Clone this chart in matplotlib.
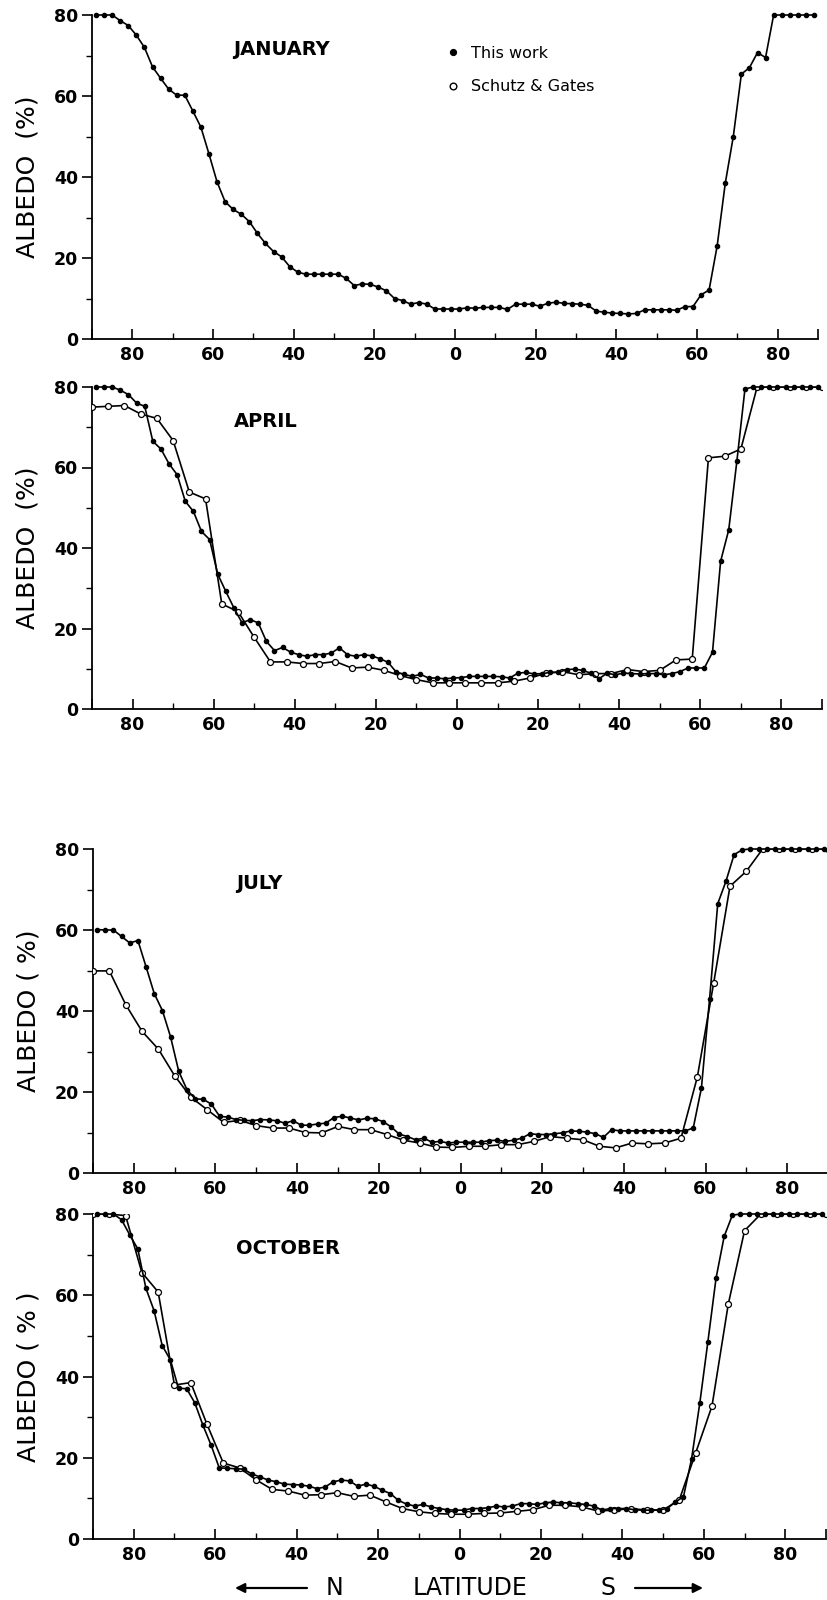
"""
Zonal mean albedo by latitude for four months,
this work vs. Schutz & Gates.
x runs from 90N (left, -90) to 90S (right, +90).
"""
import numpy as np
import matplotlib
matplotlib.use("Agg")
import matplotlib.pyplot as plt
from matplotlib.lines import Line2D
from matplotlib.ticker import FixedLocator, MultipleLocator

# ── data ────────────────────────────────────────────────────────────────
lat_this = np.arange(-89, 90, 2)     # 2-degree bands, N negative
lat_sg = np.arange(-90, 91, 4)       # Schutz & Gates, 4-degree spacing

jan_this = [80, 80, 80, 78.6, 77.4, 75.0, 72.0, 67.2, 64.4, 61.7,
            60.2, 60.2, 56.3, 52.3, 45.7, 38.8, 33.9, 32.0, 30.8, 29.0,
            26.1, 23.6, 21.6, 20.3, 17.9, 16.5, 16.0, 16.0, 16.0, 16.0,
            16.0, 15.0, 13.2, 13.6, 13.5, 12.8, 11.9, 10.0, 9.5, 8.6,
            9.0, 8.6, 7.4, 7.4, 7.4,
            7.4, 7.7, 7.6, 7.8, 7.8, 7.8, 7.3, 8.6, 8.6, 8.6,
            8.1, 8.8, 9.1, 8.8, 8.7, 8.6, 8.3, 6.9, 6.6, 6.4,
            6.3, 6.2, 6.3, 7.2, 7.2, 7.2, 7.2, 7.1, 8.0, 8.0,
            10.9, 12.1, 23.0, 38.4, 50.0, 65.4, 67.0, 70.7, 69.5, 80,
            80, 80, 80, 80, 80]

apr_this = [80, 80, 80, 79.2, 78.1, 76.0, 75.2, 66.5, 64.6, 60.9,
            58.2, 51.6, 49.1, 44.1, 42.1, 33.5, 29.2, 25.1, 21.4, 22.2,
            21.4, 16.8, 14.5, 15.3, 14.1, 13.5, 13.1, 13.5, 13.5, 13.9,
            15.2, 13.5, 13.1, 13.5, 13.2, 12.5, 11.6, 9.2, 8.6, 8.1,
            8.6, 7.7, 7.7, 7.5, 7.7,
            7.8, 8.1, 8.1, 8.1, 8.1, 8.0, 7.7, 8.9, 9.1, 8.7,
            8.8, 9.1, 9.1, 9.8, 9.9, 9.6, 8.9, 7.5, 8.9, 8.5,
            8.9, 8.8, 8.7, 8.8, 8.8, 8.5, 8.8, 9.3, 10.2, 10.2,
            10.2, 14.1, 36.7, 44.5, 61.5, 79.5, 80, 80, 80, 80,
            80, 80, 80, 80, 80]
apr_sg = [75.0, 75.2, 75.4, 73.3, 72.2, 66.7, 53.9, 52.2, 26.1, 24.2,
          17.8, 11.7, 11.7, 11.3, 11.3, 11.8, 10.2, 10.4, 9.6, 8.3,
          7.3, 6.5, 6.5,
          6.5, 6.5, 6.5, 6.9, 7.7, 8.9, 9.3, 8.5, 8.8, 8.8,
          9.8, 9.3, 9.6, 12.2, 12.4, 62.4, 62.8, 64.6, 80, 80,
          80, 80, 80]

jul_this = [60.1, 60, 60, 58.4, 56.8, 57.4, 50.9, 44.3, 40.1, 33.6,
            25.1, 20.6, 18.3, 18.2, 17.0, 14.0, 13.8, 13.2, 13.0, 12.9,
            13.2, 13.1, 12.9, 12.3, 12.9, 11.8, 11.8, 12.1, 12.3, 13.7,
            14.0, 13.6, 13.1, 13.5, 13.4, 12.7, 11.4, 9.6, 9.0, 8.2,
            8.6, 7.6, 7.8, 7.4, 7.6,
            7.6, 7.6, 7.6, 8.0, 8.1, 7.8, 8.1, 8.6, 9.7, 9.5,
            9.5, 9.7, 9.9, 10.4, 10.3, 10.1, 9.7, 8.8, 10.7, 10.4,
            10.4, 10.4, 10.4, 10.4, 10.4, 10.4, 10.4, 10.4, 11.1, 21.0,
            43.0, 66.5, 72.0, 78.6, 79.8, 80, 80, 80, 80, 80,
            80, 80, 80, 80, 80]
jul_sg = [49.9, 49.9, 41.6, 35.0, 30.6, 24.0, 18.7, 15.6, 12.5, 13.0,
          11.7, 11.1, 11.1, 10.0, 9.9, 11.5, 10.7, 10.7, 9.5, 8.1,
          7.4, 6.4, 6.3,
          6.6, 6.6, 7.0, 7.0, 7.8, 9.0, 8.6, 8.2, 6.6, 6.2,
          7.4, 7.2, 7.4, 8.6, 23.7, 46.9, 70.8, 74.5, 80, 80,
          80, 80, 80]

oct_this = [80, 80, 80, 78.6, 74.9, 71.4, 61.7, 56.2, 47.6, 44.1,
            37.1, 37.0, 33.5, 28.0, 23.1, 17.5, 17.4, 17.3, 17.2, 16.0,
            15.3, 14.5, 14.1, 13.5, 13.4, 13.3, 13.0, 12.4, 12.8, 14.1,
            14.5, 14.3, 13.0, 13.5, 13.0, 12.0, 11.2, 9.5, 8.6, 8.1,
            8.5, 7.9, 7.5, 7.2, 7.1,
            7.1, 7.5, 7.5, 7.7, 8.1, 7.9, 8.1, 8.7, 8.7, 8.5,
            8.9, 9.1, 8.9, 8.9, 8.7, 8.5, 8.1, 7.1, 7.5, 7.5,
            7.5, 7.2, 7.1, 7.1, 7.2, 7.5, 9.1, 10.4, 19.8, 33.4,
            48.6, 64.2, 74.5, 79.7, 80, 80, 80, 80, 80, 80,
            80, 80, 80, 80, 80]
oct_sg = [80, 80, 79.6, 65.6, 60.8, 37.9, 38.5, 28.2, 18.7, 17.5,
          14.6, 12.2, 11.8, 10.8, 10.9, 11.4, 10.5, 10.8, 9.1, 7.5,
          6.7, 6.3, 6.1,
          6.1, 6.3, 6.4, 6.8, 7.2, 8.3, 8.3, 7.9, 6.9, 7.1,
          7.5, 7.1, 7.1, 9.7, 21.2, 32.7, 57.8, 75.9, 80, 80,
          80, 80, 80]

months = ["JANUARY", "APRIL", "JULY", "OCTOBER"]
ylabels = ["ALBEDO  (%)", "ALBEDO  (%)", "ALBEDO ( %)", "ALBEDO ( % )"]
xtick_pos = [-80, -60, -40, -20, 0, 20, 40, 60, 80]
xtick_labels = ["80", "60", "40", "20", "0", "20", "40", "60", "80"]

panels = [(jan_this, None), (apr_this, apr_sg),
          (jul_this, jul_sg), (oct_this, oct_sg)]

# ── figure ──────────────────────────────────────────────────────────────
plt.rcParams["font.family"] = ["DejaVu Sans"]

W, H = 827, 1600
fig = plt.figure(figsize=(W / 100, H / 100), dpi=100)

# axes boxes in pixels: (left, right, y80, y0)
boxes = [(92, 818, 15, 339), (92, 822, 387, 709),
         (93, 828, 849, 1173), (93, 826, 1214, 1539)]

for i, ((this, sg), box) in enumerate(zip(panels, boxes)):
    l, r, top, bot = box
    ax = fig.add_axes([l / W, 1 - bot / H, (r - l) / W, (bot - top) / H])
    ax.set_xlim(-90, 90)
    ax.set_ylim(0, 80)

    if sg is not None:
        ax.plot(lat_sg, sg, color="black", lw=1.2, marker="o", ms=4.3,
                mfc="white", mec="black", mew=0.9, zorder=3)
    ax.plot(lat_this, this, color="black", lw=1.2, marker="o", ms=3.0,
            mfc="black", mec="black", zorder=4, clip_on=False)

    for side in ("top", "right"):
        ax.spines[side].set_visible(False)
    for side in ("left", "bottom"):
        ax.spines[side].set_linewidth(1.3)

    ax.xaxis.set_major_locator(FixedLocator(xtick_pos + [-90, 90]))
    ax.set_xticklabels(xtick_labels + ["", ""])
    ax.xaxis.set_minor_locator(MultipleLocator(10))
    ax.yaxis.set_major_locator(MultipleLocator(20))
    ax.yaxis.set_minor_locator(MultipleLocator(10))
    ax.tick_params(axis="x", which="major", direction="in", length=7,
                   width=1.2, pad=5)
    ax.tick_params(axis="x", which="minor", direction="in", length=4.5,
                   width=1.0)
    ax.tick_params(axis="y", which="major", direction="out", length=7,
                   width=1.2, pad=3)
    ax.tick_params(axis="y", which="minor", direction="out", length=4,
                   width=1.0)
    for lab in ax.get_xticklabels() + ax.get_yticklabels():
        lab.set_fontsize(12.5)
        lab.set_fontweight("bold")

    ax.set_ylabel(ylabels[i], fontsize=18)
    ax.yaxis.set_label_coords(-0.072, 0.5)

    ax.text(-55, 71.5, months[i], fontsize=14, fontweight="bold",
            ha="left", va="center")

    if i == 0:
        handles = [
            Line2D([], [], ls="none", marker="o", ms=4.2, mfc="black",
                   mec="black"),
            Line2D([], [], ls="none", marker="o", ms=4.8, mfc="white",
                   mec="black", mew=1.0),
        ]
        ax.legend(handles, ["This work", "Schutz & Gates"],
                  loc="upper left", bbox_to_anchor=(0.49, 0.905),
                  frameon=False, fontsize=11.5, handlelength=0.6,
                  handletextpad=0.85, labelspacing=1.15, borderpad=0,
                  borderaxespad=0)

# bottom axis caption with direction arrows
yc = 1 - 1588 / H
fig.text(335 / W, yc, "N", fontsize=17, ha="center", va="center")
fig.text(470 / W, yc, "LATITUDE", fontsize=17, ha="center", va="center")
fig.text(608 / W, yc, "S", fontsize=17, ha="center", va="center")
arrow = dict(arrowstyle="-|>", lw=1.6, color="black", mutation_scale=14,
             shrinkA=0, shrinkB=0)
fig.add_artist(plt.Annotation("", xy=(235 / W, yc), xytext=(307 / W, yc),
                              xycoords="figure fraction",
                              textcoords="figure fraction",
                              arrowprops=arrow))
fig.add_artist(plt.Annotation("", xy=(703 / W, yc), xytext=(635 / W, yc),
                              xycoords="figure fraction",
                              textcoords="figure fraction",
                              arrowprops=arrow))

fig.savefig("out.png", dpi=100)
